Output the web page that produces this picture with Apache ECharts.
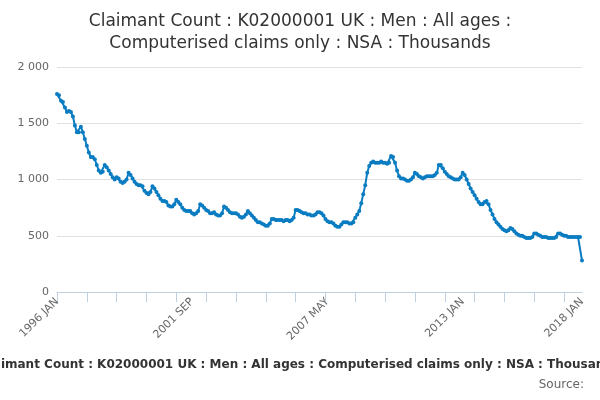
<!DOCTYPE html>
<html><head><meta charset="utf-8">
<script src="https://cdn.jsdelivr.net/npm/echarts@6/dist/echarts.min.js"></script>
<style>html,body{margin:0;padding:0;background:#fff}#c{width:600px;height:400px}</style>
</head><body><div id="c"></div>
<script>
const MONTHS = ['JAN','FEB','MAR','APR','MAY','JUN','JUL','AUG','SEP','OCT','NOV','DEC'];
const y1996 = [1760,1750,1700,1690,1640,1600,1610,1600,1560,1480,1420,1420];
const y1997 = [1470,1420,1360,1300,1240,1200,1200,1180,1130,1080,1060,1070];
const y1998 = [1130,1110,1080,1050,1020,1000,1020,1010,980,970,980,1000];
const y1999 = [1060,1040,1010,980,960,950,950,940,900,880,870,890];
const y2000 = [940,920,890,860,830,810,810,800,770,760,760,780];
const y2001 = [820,800,780,750,730,720,720,720,700,690,700,720];
const y2002 = [780,770,750,730,720,700,700,710,690,680,680,700];
const y2003 = [760,750,730,710,700,700,700,690,670,660,670,690];
const y2004 = [720,700,680,660,640,620,620,610,600,590,590,610];
const y2005 = [650,650,640,640,640,640,630,640,640,630,640,660];
const y2006 = [730,730,720,710,700,700,690,690,680,680,690,710];
const y2007 = [710,700,680,650,630,620,620,610,590,580,580,600];
const y2008 = [620,620,620,610,610,620,660,690,720,790,870,950];
const y2009 = [1060,1120,1150,1160,1150,1150,1150,1160,1150,1150,1140,1150];
const y2010 = [1210,1200,1150,1080,1030,1010,1010,1000,990,990,1000,1020];
const y2011 = [1060,1050,1030,1020,1010,1020,1030,1030,1030,1030,1040,1060];
const y2012 = [1130,1130,1100,1070,1050,1030,1020,1010,1000,1000,1000,1020];
const y2013 = [1060,1040,1000,960,920,890,860,830,800,780,780,800];
const y2014 = [810,780,730,690,650,620,600,580,560,550,540,550];
const y2015 = [570,560,540,520,510,500,500,490,480,480,480,490];
const y2016 = [520,520,510,500,490,490,490,480,480,480,480,490];
const y2017 = [520,520,510,500,500,490,490,490,490,490,490,490];
const y2018 = [280];
const years = [y1996,y1997,y1998,y1999,y2000,y2001,y2002,y2003,y2004,y2005,y2006,y2007,y2008,y2009,y2010,y2011,y2012,y2013,y2014,y2015,y2016,y2017,y2018];
const categories = [], values = [];
years.forEach((arr,i)=>arr.forEach((v,m)=>{categories.push((1996+i)+' '+MONTHS[m]);values.push(v);}));
const last = categories.length-1;
const chart = echarts.init(document.getElementById('c'));
chart.setOption({
  animation:false,
  title:[{text:'Claimant Count : K02000001 UK : Men : All ages :\nComputerised claims only : NSA : Thousands',left:'center',top:6,
    textStyle:{fontFamily:'DejaVu Sans',fontSize:17,fontWeight:500,color:'#333',lineHeight:22}},
    {text:'Claimant Count : K02000001 UK : Men : All ages : Computerised claims only : NSA : Thousands',left:'center',top:354,
    textStyle:{fontFamily:'DejaVu Sans',fontSize:12,fontWeight:'bold',color:'#333'}},
    {text:'Source:',right:11,top:374,textStyle:{fontFamily:'DejaVu Sans',fontSize:12,fontWeight:'normal',color:'#666'}}],
  grid:{left:57,right:18,top:67,bottom:108},
  xAxis:{type:'category',data:categories,boundaryGap:false,
    axisLine:{lineStyle:{color:'#c0d0e0'}},
    axisTick:{interval:14,length:10,lineStyle:{color:'#c0d0e0'}},
    axisLabel:{interval:(i)=>i%68===0||i===last,rotate:45,fontFamily:'DejaVu Sans',fontSize:11,color:'#666',margin:8}},
  yAxis:{type:'value',min:0,max:2000,interval:500,
    axisLabel:{fontFamily:'DejaVu Sans',fontSize:11,color:'#666',formatter:v=>v>=1000?String(v).replace(/(\d)(\d{3})$/,'$1 $2'):String(v)},
    splitLine:{lineStyle:{color:'#e0e0e0'}}},
  series:[{type:'line',data:values,symbol:'circle',symbolSize:4,showSymbol:true,showAllSymbol:true,
    lineStyle:{color:'#0a7cc1',width:2},itemStyle:{color:'#0a7cc1'}}]
});
</script></body></html>
